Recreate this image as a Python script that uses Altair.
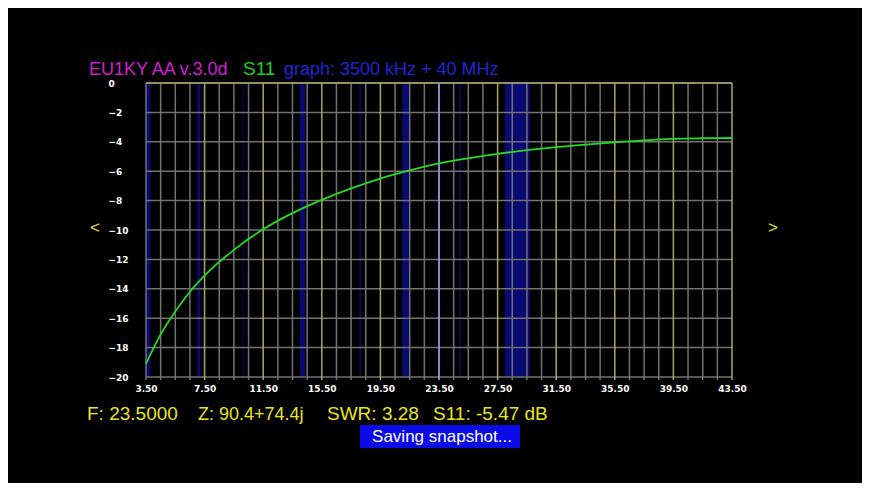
import altair as alt
import pandas as pd

# ---- data ----
freq = [3.5, 4.5, 5.5, 6.5, 7.5, 9.5, 11.5, 13.5, 15.5, 17.5, 19.5, 21.5, 23.5,
        25.5, 27.5, 29.5, 31.5, 33.5, 35.5, 37.5, 39.5, 41.5, 43.5]
s11 = [-19.1, -17.1, -15.55, -14.2, -13.1, -11.35, -9.95, -8.85, -7.95, -7.17, -6.5,
       -5.95, -5.47, -5.12, -4.82, -4.57, -4.36, -4.19, -4.04, -3.9, -3.8, -3.76, -3.74]

band_start = [3.5, 7.0, 10.1, 14.0, 18.068, 21.0, 24.89, 28.0]
band_end = [3.8, 7.2, 10.15, 14.35, 18.168, 21.45, 24.99, 29.7]

minor_x = [3.5 + i for i in range(41) if i % 4 != 0 or i == 0]
major_x = [7.5, 11.5, 15.5, 19.5, 23.5, 27.5, 31.5, 35.5, 39.5, 43.5]
x_labels = [3.5, 7.5, 11.5, 15.5, 19.5, 23.5, 27.5, 31.5, 35.5, 39.5, 43.5]
y_levels = [0, -2, -4, -6, -8, -10, -12, -14, -16, -18, -20]
cursor_f = [23.5]

W, H = 586, 294
FONT = "Liberation Sans, Arial"
LBL = "DejaVu Sans"

xs = alt.Scale(domain=[3.5, 43.5], nice=False, zero=False)
ys = alt.Scale(domain=[-20, 0], nice=False, zero=False)

xaxis = alt.Axis(values=x_labels, format=".2f", grid=False, domain=False, ticks=False,
                 labelColor="white", labelFont=LBL, labelFontSize=9, labelFontWeight="bold",
                 labelPadding=7, title=None, labelFlush=False)
yaxis = alt.Axis(values=y_levels, format="d", grid=False, domain=False, ticks=False,
                 labelColor="white", labelFont=LBL, labelFontSize=9, labelFontWeight="bold",
                 labelAlign="left", labelPadding=38, title=None)

def yd(v):
    return alt.YDatum(v, scale=ys, axis=yaxis)

bands = alt.Chart(pd.DataFrame({"a": band_start, "b": band_end})).mark_rect(
    color="#0a0a78", opacity=0.95).encode(
    x=alt.X("a:Q", scale=xs, axis=xaxis), x2="b:Q",
    y=yd(0), y2=alt.Y2Datum(-20))

GRAY = "#727272"
YEL = "#aaa668"

hgrid = alt.Chart(pd.DataFrame({"y": y_levels})).mark_rule(color=GRAY, strokeWidth=1.5).encode(
    y=alt.Y("y:Q", scale=ys, axis=yaxis))

vminor = alt.Chart(pd.DataFrame({"x": minor_x})).mark_rule(color=GRAY, strokeWidth=1.5).encode(
    x=alt.X("x:Q", scale=xs, axis=xaxis), y=yd(0), y2=alt.Y2Datum(-20.2))

top = alt.Chart(pd.DataFrame({"y": [0]})).mark_rule(color=YEL, strokeWidth=1.5).encode(
    y=alt.Y("y:Q", scale=ys, axis=yaxis))

vmajor = alt.Chart(pd.DataFrame({"x": major_x})).mark_rule(color=YEL, strokeWidth=1.5).encode(
    x=alt.X("x:Q", scale=xs, axis=xaxis), y=yd(0), y2=alt.Y2Datum(-20.2))

cursor = alt.Chart(pd.DataFrame({"x": cursor_f})).mark_rule(color="#8c8cff", strokeWidth=1.5).encode(
    x=alt.X("x:Q", scale=xs, axis=xaxis), y=yd(0), y2=alt.Y2Datum(-20.2))

curve = alt.Chart(pd.DataFrame({"f": freq, "v": s11})).mark_line(
    color="#22dc22", strokeWidth=1.8, interpolate="monotone").encode(
    x=alt.X("f:Q", scale=xs, axis=xaxis), y=alt.Y("v:Q", scale=ys, axis=yaxis))

# ---- annotation texts (positions relative to plot origin) ----
def txt(s, x, y, color, size, font=FONT, baseline="alphabetic", align="left"):
    return alt.Chart(pd.DataFrame({"t": [s]})).mark_text(
        color=color, fontSize=size, font=font, align=align, baseline=baseline).encode(
        text="t:N", x=alt.value(x), y=alt.value(y))

ox, oy = 146, 83
texts = [
    txt("EU1KY AA v.3.0d", 89 - ox, 75 - oy, "#d21ed2", 18),
    txt("S11", 243 - ox, 75 - oy, "#1ed21e", 19),
    txt("graph: 3500 kHz + 40 MHz", 284 - ox, 75 - oy, "#2323d6", 18),
    txt("F: 23.5000", 87 - ox, 420 - oy, "#e6e61e", 19),
    txt("Z: 90.4+74.4j", 198 - ox, 420 - oy, "#e6e61e", 18),
    txt("SWR: 3.28", 327 - ox, 420 - oy, "#e6e61e", 19),
    txt("S11: -5.47 dB", 433 - ox, 420 - oy, "#e6e61e", 19),
    txt("<", 95 - ox, 228 - oy, "#e6e61e", 17, baseline="middle", align="center"),
    txt(">", 773 - ox, 228 - oy, "#e6e61e", 17, baseline="middle", align="center"),
]

box = alt.Chart(pd.DataFrame({"k": [1]})).mark_rect(color="#0a0ae6").encode(
    x=alt.value(360 - ox), x2=alt.value(520 - ox), y=alt.value(425 - oy), y2=alt.value(448 - oy))
saving = txt("Saving snapshot...", 442 - ox, 437 - oy, "white", 17, baseline="middle", align="center")

chart = alt.layer(bands, hgrid, vminor, top, vmajor, cursor, curve, box, saving, *texts).properties(
    width=W, height=H,
    padding={"left": 138, "top": 75, "right": 130, "bottom": 106},
    autosize=alt.AutoSizeParams(type="none"),
    background="black",
).configure_view(stroke=None)

chart.save("out.html", embed_options={"renderer": "svg", "actions": False})
